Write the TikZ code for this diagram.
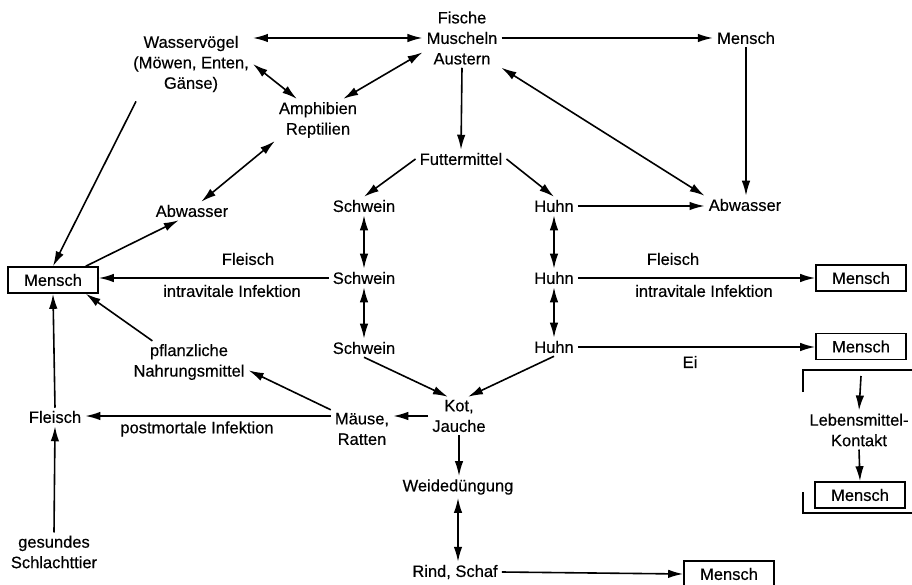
\documentclass[tikz,border=0pt]{standalone}
\usepackage{fontspec}
\setmainfont{Liberation Sans}[FakeBold=0.4]
\usetikzlibrary{arrows.meta,calc}
\begin{document}
\begin{tikzpicture}[x=1pt,y=-1pt,
  every node/.style={font=\fontsize{16.5}{20.5}\selectfont, inner xsep=4pt, inner ysep=3pt, align=center},
  box/.style={draw, line width=1.6pt, minimum width=90pt, minimum height=26pt, inner sep=0pt},
  tip/.tip={Latex[length=15pt,width=8.5pt]},
  con/.style={line width=1.6pt, -tip},
  bi/.style={line width=1.6pt, tip-tip},
  brk/.style={line width=1.6pt},
  ]
\useasboundingbox (0,0) rectangle (912,585);
\clip (0,0) rectangle (912,585);

% nodes
\node (wv) at (191,64) {Wasservögel\\(Möwen, Enten,\\Gänse)};
\node (fi) at (462,38) {Fische\\Muscheln\\Austern};
\node (me1) at (746,38) {Mensch};
\node (am) at (318,120) {Amphibien\\Reptilien};
\node (fu) at (461,159) {Futtermittel};
\node (abl) at (192,211) {Abwasser};
\node (s1) at (364,206) {Schwein};
\node (h1) at (554,206) {Huhn};
\node (abr) at (745,205) {Abwasser};
\node[box] (mL) at (53,280) {Mensch};
\node (s2) at (364,278) {Schwein};
\node (h2) at (554,278) {Huhn};
\node[box] (mR1) at (861,278) {Mensch};
\node (s3) at (364,348) {Schwein};
\node (h3) at (554,347) {Huhn};
\node[box] (mR2) at (861,346.5) {Mensch};
\node (pf) at (189,362) {pflanzliche\\Nahrungsmittel};
\node (fl) at (55,417) {Fleisch};
\node (ma) at (362,429) {Mäuse,\\Ratten};
\node (kot) at (459,416) {Kot,\\Jauche};
\node (lm) at (859,430) {Lebensmittel-\\Kontakt};
\node[box] (mR3) at (860,495) {Mensch};
\node (wd) at (458,487) {Weidedüngung};
\node (gs) at (54,552) {gesundes\\Schlachttier};
\node (rs) at (455,572) {Rind, Schaf};
\node[box] (mB) at (729,574) {Mensch};

% labels
\node (l1) at (248,259) {Fleisch};
\node (l2) at (232,291) {intravitale Infektion};
\node (l3) at (673,259) {Fleisch};
\node (l4) at (704,291) {intravitale Infektion};
\node (l5) at (690,362) {Ei};
\node (l6) at (197,429) {postmortale Infektion};

% connectors
\draw[bi] (fi.west) -- (fi.west -| wv.east);
\draw[con] (fi.east) -- (me1.west);
\draw[con] (me1.south) -- (me1.south |- abr.north);
\draw[bi] (fi.south east) -- (abr.north west);
\draw[bi] (fi.200) -- (am.40);
\draw[bi] (wv.east) -- (am.135);
\draw[bi] (am.south west) -- (abl.45);
\draw[con] ([xshift=7pt,yshift=-6pt]wv.south west) -- (mL.north);
\draw[con] ([xshift=-13pt]mL.north east) -- (abl.215);
\draw[con] (s2.west) -- (s2.west -| mL.east);
\draw[con] (fi.south) -- (fu.north);
\draw[con] (fu.west) -- (s1.north);
\draw[con] (fu.east) -- (h1.north);
\draw[con] (h1.east) -- (h1.east -| abr.west);
\draw[bi] (s1.south) -- (s2.north);
\draw[bi] (s2.south) -- (s3.north);
\draw[bi] (h1.south) -- (h2.north);
\draw[bi] (h2.south) -- (h3.north);
\draw[con] (h2.east) -- (h2.east -| mR1.west);
\draw[con] (h3.east) -- (h3.east -| mR2.west);
\draw[con] (s3.south) -- (kot.120);
\draw[con] (h3.south) -- (kot.65);
\draw[con] (kot.west) -- (kot.west -| ma.east);
\draw[con] (ma.north west) -- (pf.-8);
\draw[con] (pf.150) -- ([xshift=-13pt]mL.south east);
\draw[con] (kot.west -| ma.west) -- (kot.west -| fl.east);
\draw[con] (fl.north) -- (mL.south);
\draw[con] (gs.north) -- (fl.south);
\draw[con] (kot.south) -- (kot.south |- wd.north);
\draw[bi] (wd.south) -- (wd.south |- rs.north);
\draw[con] (rs.east) -- (mB.west);

% bracket
\coordinate (bt) at (861,376);
\draw[brk] (803,392) -- (803,370) -- (912,370);
\draw[brk] (803,492) -- (803,513) -- (912,513);
\draw[con] (bt) -- (lm.north);
\draw[con] (lm.south) -- (mR3.north);
\end{tikzpicture}
\end{document}
